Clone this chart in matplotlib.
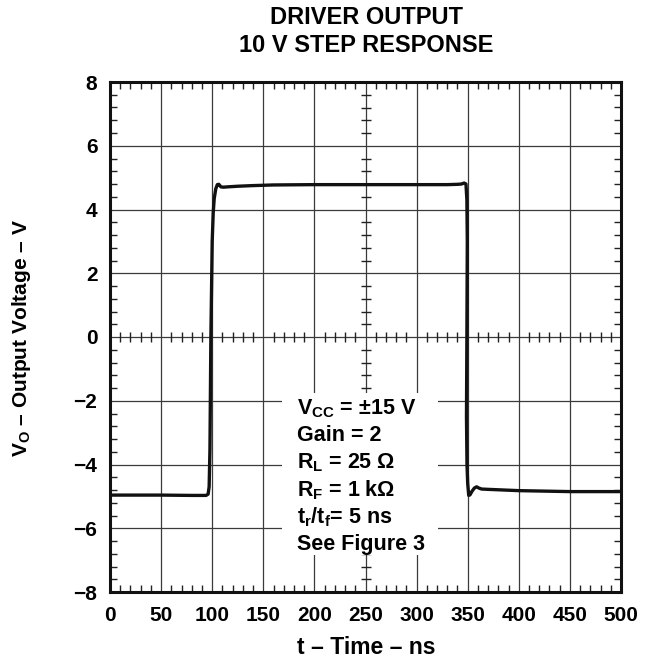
import matplotlib
matplotlib.use("Agg")
import matplotlib.pyplot as plt
from matplotlib.ticker import MultipleLocator
from matplotlib.patches import Rectangle

plt.rcParams['font.family'] = ['Liberation Sans', 'DejaVu Sans']
plt.rcParams['font.weight'] = 'bold'
plt.rcParams['mathtext.fontset'] = 'custom'
plt.rcParams['mathtext.rm'] = 'Liberation Sans:bold'
plt.rcParams['mathtext.it'] = 'Liberation Sans:bold'
plt.rcParams['mathtext.bf'] = 'Liberation Sans:bold'

# ---- data ----
time_ns = [0, 20, 50, 80, 94, 96, 97.0, 97.8, 98.7, 100.0, 101.0, 102.0, 103.5,
           105.0, 106.5, 108.5, 111.0, 115, 125, 140, 160, 200, 250, 300, 330,
           340, 344, 346.5, 348.3, 349.2, 349.6, 349.2, 348.8, 349.3, 350.0,
           351.0, 352.3, 354.0, 356.5, 358.7, 361.0, 363.6, 370, 385, 400, 450, 500]
vout = [-4.96, -4.96, -4.96, -4.97, -4.97, -4.93, -4.7, -3.5, 0.0, 3.0, 3.9, 4.35, 4.65,
        4.78, 4.79, 4.71, 4.70, 4.71, 4.73, 4.75, 4.77, 4.78, 4.78, 4.78, 4.78,
        4.79, 4.80, 4.83, 4.80, 4.3, 3.0, 0.0, -2.5, -4.0, -4.6,
        -4.97, -4.95, -4.85, -4.74, -4.70, -4.74, -4.77, -4.78, -4.80, -4.82, -4.85, -4.85]

x_ticks = [0, 50, 100, 150, 200, 250, 300, 350, 400, 450, 500]
y_ticks = [-8, -6, -4, -2, 0, 2, 4, 6, 8]
y_tick_labels = ['\u22128', '\u22126', '\u22124', '\u22122', '0', '2', '4', '6', '8']
x_minor_step = 10
y_minor_step = 0.4
x_center = 250
y_center = 0

title_lines = ['DRIVER OUTPUT', '10 V STEP RESPONSE']
x_label = 't \u2013 Time \u2013 ns'
y_label = r'$\mathrm{V_O}$' + ' \u2013 Output Voltage \u2013 V'
notes = [r'$\mathrm{V_{CC}}$' + ' = \u00b115 V', 'Gain = 2', r'$\mathrm{R_L}$' + ' = 25 \u03a9',
         r'$\mathrm{R_F}$' + ' = 1 k\u03a9', r'$\mathrm{t_r/t_f}$' + '= 5 ns', 'See Figure 3']

# ---- figure ----
fig = plt.figure(figsize=(6.61, 6.60), dpi=100)
ax = fig.add_axes([110/661, 68/660, 511/661, 510/660])
ax.set_xlim(0, 500)
ax.set_ylim(-8, 8)

ax.set_xticks(x_ticks)
ax.set_xticklabels([str(v) for v in x_ticks])
ax.set_yticks(y_ticks)
ax.set_yticklabels(y_tick_labels)
ax.xaxis.set_minor_locator(MultipleLocator(x_minor_step))
ax.yaxis.set_minor_locator(MultipleLocator(y_minor_step))
ax.tick_params(which='major', length=0, labelsize=15, pad=10)
ax.tick_params(axis='y', which='major', pad=9)
ax.tick_params(which='minor', direction='in', length=5, width=1, color='#222222',
               top=True, right=True, bottom=True, left=True)

ax.grid(True, which='major', color='#3a3a3a', linewidth=0.9)
for s in ax.spines.values():
    s.set_linewidth(2.2)
    s.set_color('#111111')

# centre graticule ticks
xm = [v for v in range(0, 501, x_minor_step) if v % 50 != 0]
ym = [round(-8 + i * y_minor_step, 2) for i in range(41)]
ym = [v for v in ym if abs(v / 2 - round(v / 2)) > 1e-6]
ax.plot(xm, [y_center] * len(xm), linestyle='none', marker='|', markersize=7,
        markeredgewidth=1, color='#222222', zorder=2)
ax.plot([x_center] * len(ym), ym, linestyle='none', marker='_', markersize=7,
        markeredgewidth=1, color='#222222', zorder=2)

# text box background
ax.add_patch(Rectangle((168, -6.85), 153, 5.1, facecolor='white', edgecolor='none', zorder=3))

ax.plot(time_ns, vout, color='#111111', linewidth=2.4, zorder=5, solid_joinstyle='round')

for i, line in enumerate(notes):
    ax.text(183, -2.25 - i * 0.85, line, fontsize=15.5, fontweight='bold', ha='left',
            va='center', zorder=6)

fig.text(366/661, 1 - 17/660, title_lines[0], fontsize=17, fontweight='bold', ha='center', va='center')
fig.text(366/661, 1 - 46/660, title_lines[1], fontsize=17, fontweight='bold', ha='center', va='center')
fig.text(366/661, 1 - 648/660, x_label, fontsize=16.5, fontweight='bold', ha='center', va='center')
fig.text(22/661, 1 - 338/660, y_label, fontsize=15, fontweight='bold', ha='center', va='center',
         rotation=90)

fig.savefig('out.png', dpi=100)
